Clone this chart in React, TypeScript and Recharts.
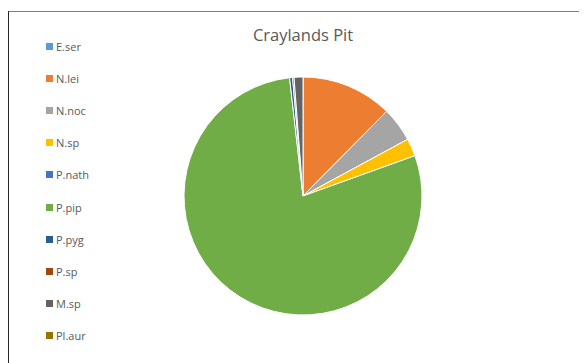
import { Cell, Pie, PieChart } from "recharts";

const species = ["E.ser", "N.lei", "N.noc", "N.sp", "P.nath", "P.pip", "P.pyg", "P.sp", "M.sp", "Pl.aur"];
const shares = [0, 12.4, 4.7, 2.4, 0, 78.7, 0.4, 0.2, 1.2, 0];
const colors = ["#5B9BD5", "#ED7D31", "#A5A5A5", "#FFC000", "#4472C4", "#70AD47", "#255E91", "#9E480E", "#636363", "#997300"];

const data = species.map((name, i) => ({ name, value: shares[i] }));

const font = "'Open Sans', sans-serif";

function SpeciesLegend() {
  return (
    <div
      style={{
        position: "absolute",
        left: 38,
        top: 22,
        fontFamily: font,
        fontSize: 11,
        color: "#595959",
      }}
    >
      {species.map((name, i) => (
        <div key={name} style={{ display: "flex", alignItems: "center", height: 32.2 }}>
          <span
            style={{ width: 7, height: 7, background: colors[i], marginRight: 3, display: "inline-block" }}
          />
          {name}
        </div>
      ))}
    </div>
  );
}

export default function App() {
  return (
    <div style={{ position: "relative", width: 570, height: 355 }}>
      <div style={{ position: "absolute", left: -1, top: 3, width: 580, height: 1, background: "#7f7f7f" }} />
      <div style={{ position: "absolute", left: -1, top: 3, width: 2, height: 352, background: "#262626" }} />
      <div
        style={{
          position: "absolute",
          left: 0,
          top: 15,
          width: 590,
          textAlign: "center",
          fontFamily: font,
          fontSize: 16.5,
          color: "#595959",
        }}
      >
        Craylands Pit
      </div>
      <SpeciesLegend />
      <div style={{ position: "absolute", left: 0, top: 4 }}>
        <PieChart width={560} height={340}>
          <Pie
            data={data}
            dataKey="value"
            nameKey="name"
            cx={290}
            cy={179}
            outerRadius={119}
            startAngle={90}
            endAngle={-270}
            stroke="#fff"
            strokeWidth={1}
            isAnimationActive={false}
          >
            {data.map((d, i) => (
              <Cell key={d.name} fill={colors[i]} />
            ))}
          </Pie>
        </PieChart>
      </div>
    </div>
  );
}
